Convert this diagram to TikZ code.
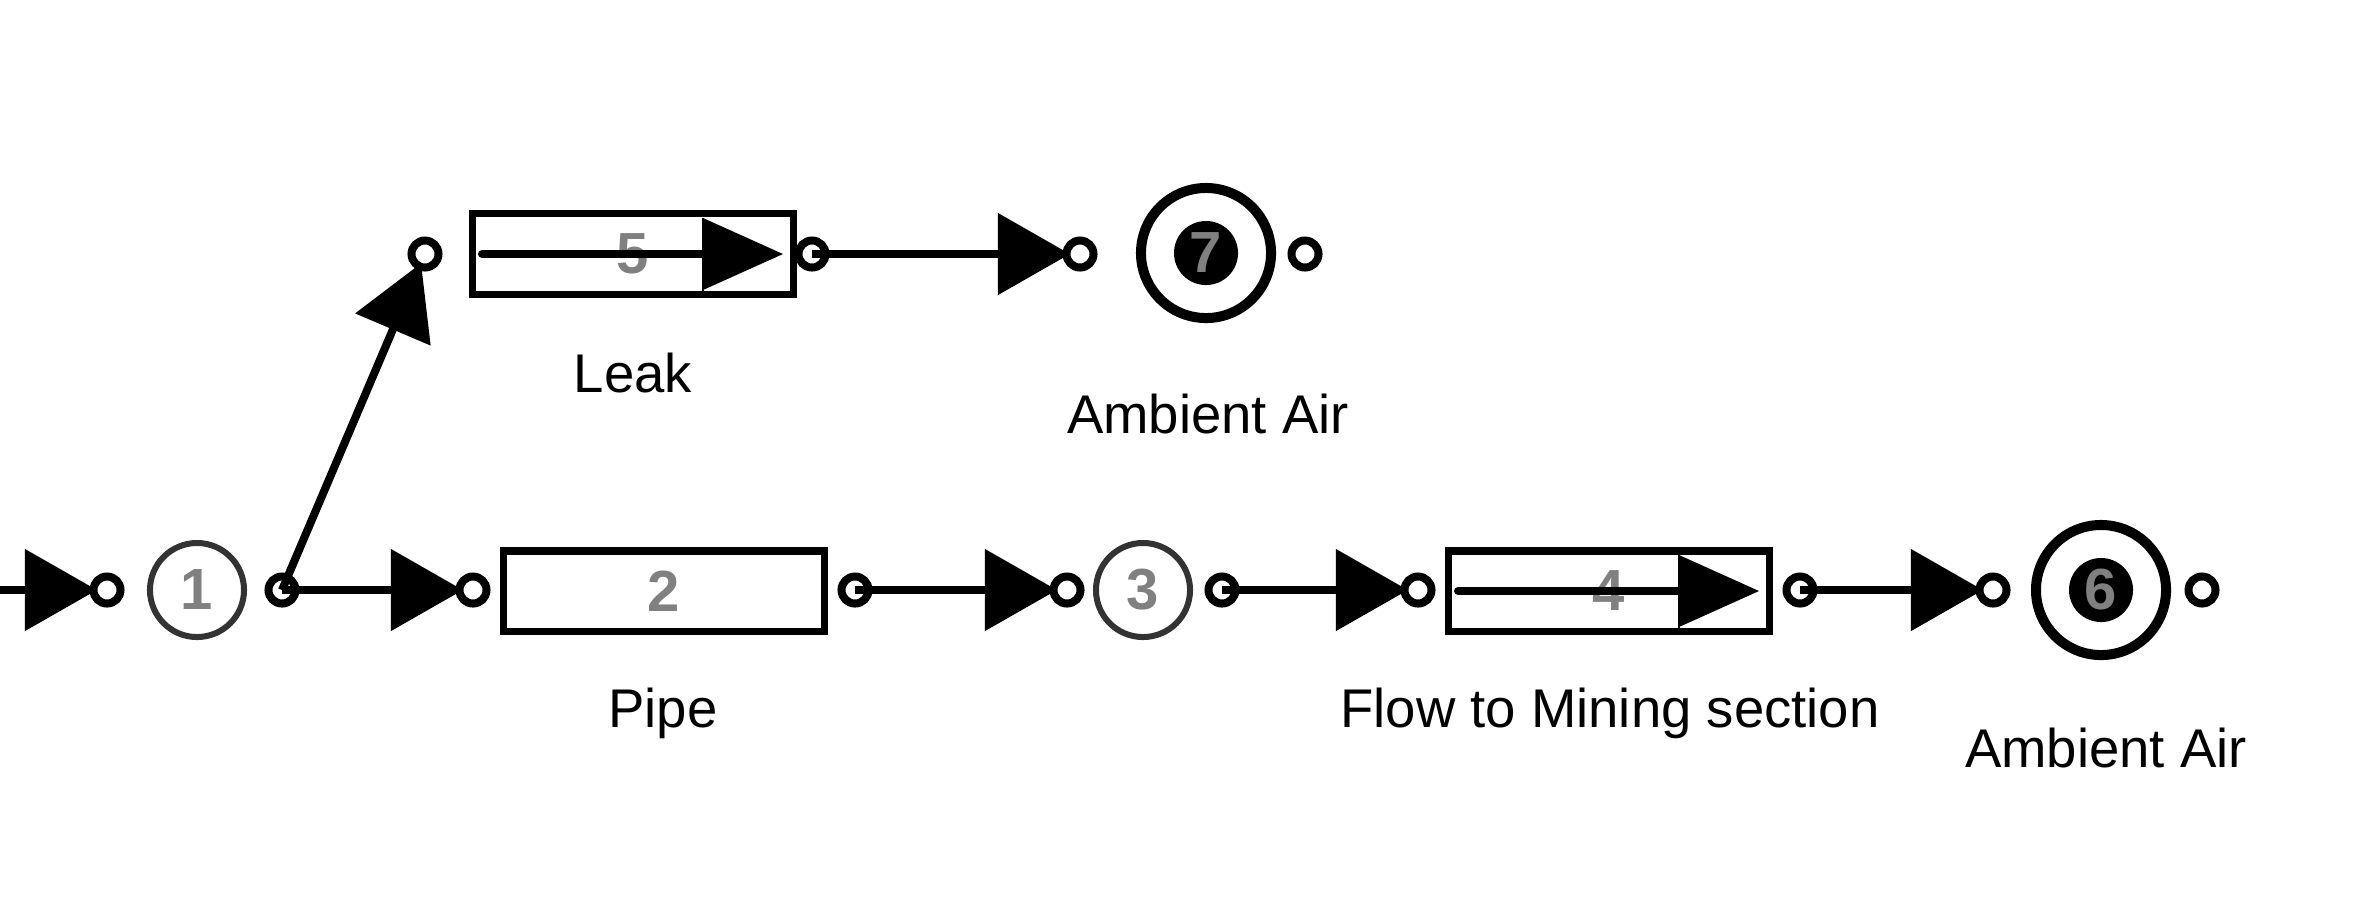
\documentclass[tikz,border=0pt]{standalone}
\usepackage{fontspec}
\setmainfont{Liberation Sans}
\usetikzlibrary{arrows.meta}
\newcommand\flowmark[1]{%
  \begin{scope}[shift={(#1.center)}]
    \draw[line width=0.02cm] (70,-36.5) -- (70,36.5);
    \draw[line width=0.08cm,line cap=round] (-151,0) -- (72,0);
    \fill (70,-36) -- (150,0) -- (70,36) -- cycle;
  \end{scope}}
\begin{document}
\begin{tikzpicture}[x=0.01cm,y=-0.01cm,
  numfont/.style={font=\fontsize{16.5pt}{18pt}\selectfont\bfseries,text=black!50},
  port/.style={circle,draw,line width=0.08cm,minimum size=0.27cm,inner sep=0pt},
  junc/.style={circle,draw=black!80,line width=0.06cm,minimum size=0.94cm,inner sep=0pt,numfont},
  amb/.style={circle,draw,line width=0.1cm,minimum size=1.30cm,inner sep=0pt,numfont,
     path picture={\fill[black] (path picture bounding box.center) circle (0.32cm);}},
  pbox/.style={rectangle,draw,line width=0.075cm,minimum width=3.205cm,minimum height=0.805cm,inner sep=0pt,numfont},
  lbl/.style={anchor=base,inner sep=0pt,font=\fontsize{15.5pt}{18pt}\selectfont},
  flow/.style={line width=0.08cm,-{Triangle[length=0.72cm,width=0.8cm]},shorten >=0.1cm},
]
\useasboundingbox (0,0) rectangle (2358,920);

% bottom row
\coordinate (src) at (0,590);
\node[port] (p1i) at (107,590) {};
\node[junc] (n1) at (197,590) {1};
\node[port] (p1o) at (282,590) {};
\node[port] (p2i) at (473,590) {};
\node[pbox] (n2) at (664,591) {2};
\node[port] (p2o) at (855,590) {};
\node[port] (p3i) at (1067,590) {};
\node[junc] (n3) at (1143,590) {3};
\node[port] (p3o) at (1222,590) {};
\node[port] (p4i) at (1418,590) {};
\node[pbox] (n4) at (1609,591) {4};
\node[port] (p4o) at (1800,590) {};
\node[port] (p6i) at (1993,590) {};
\node[amb] (n6) at (2101,590) {6};
\node[port] (p6o) at (2202,590) {};

% top row
\node[port] (p5i) at (425,254) {};
\node[pbox] (n5) at (633,254) {5};
\node[port] (p5o) at (812,254) {};
\node[port] (p7i) at (1080,254) {};
\node[amb] (n7) at (1206,253) {7};
\node[port] (p7o) at (1305,254) {};

\flowmark{n4}
\flowmark{n5}

% labels
\node[lbl] (l5) at (633,392) {Leak};
\node[lbl] (l7) at (1208,433) {Ambient Air};
\node[lbl] (l2) at (663,727) {Pipe};
\node[lbl] (l4) at (1610,727) {Flow to Mining section};
\node[lbl] (l6) at (2106,767) {Ambient Air};

% connectors
\draw[flow] (src) -- (p1i.center);
\draw[flow] (p1o.center) -- (p2i.center);
\draw[flow] (p1o.center) -- (p5i.center);
\draw[flow] (p2o.center) -- (p3i.center);
\draw[flow] (p3o.center) -- (p4i.center);
\draw[flow] (p4o.center) -- (p6i.center);
\draw[flow] (p5o.center) -- (p7i.center);
\end{tikzpicture}
\end{document}
